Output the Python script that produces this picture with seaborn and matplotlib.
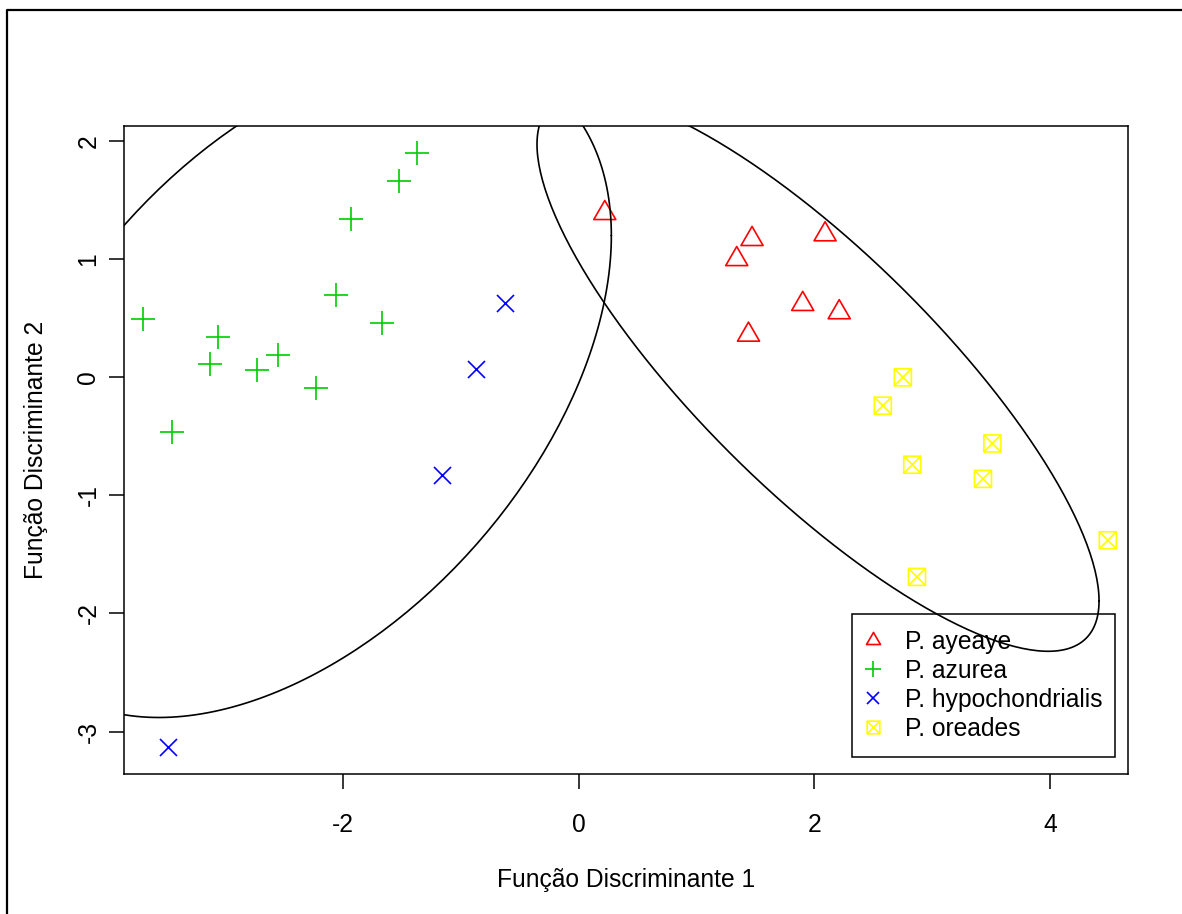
import numpy as np
import pandas as pd
import matplotlib
matplotlib.use('Agg')
import matplotlib.pyplot as plt
from matplotlib.path import Path
from matplotlib.lines import Line2D
from matplotlib.patches import Rectangle
import seaborn as sns

# escores nas funções discriminantes
ayeaye_fd1 = [0.22, 1.47, 1.34, 2.09, 1.90, 2.21, 1.44]
ayeaye_fd2 = [1.39, 1.17, 1.00, 1.21, 0.62, 0.55, 0.36]
azurea_fd1 = [-3.70, -1.37, -1.53, -1.93, -2.06, -1.67, -3.06, -3.13, -2.55, -2.73, -2.23, -3.45]
azurea_fd2 = [0.49, 1.90, 1.66, 1.34, 0.70, 0.46, 0.34, 0.11, 0.19, 0.06, -0.09, -0.46]
hypo_fd1 = [-0.63, -0.87, -1.16, -3.49]
hypo_fd2 = [0.63, 0.07, -0.83, -3.13]
oreades_fd1 = [2.75, 2.58, 3.51, 2.83, 3.43, 4.49, 2.87]
oreades_fd2 = [0.00, -0.24, -0.56, -0.74, -0.86, -1.38, -1.69]

especies = ['P. ayeaye', 'P. azurea', 'P. hypochondrialis', 'P. oreades']
cores = ['#FF0000', '#00CD00', '#0000FF', '#FFFF00']

# elipses: centro e matriz de forma
elipse_centros = [[-2.37, -0.07], [2.03, 0.04]]
elipse_formas = [[[7.00, 3.36], [3.36, 7.90]],
                 [[5.69, -4.61], [-4.61, 5.57]]]

df = pd.concat([
    pd.DataFrame({'fd1': ayeaye_fd1, 'fd2': ayeaye_fd2, 'especie': especies[0]}),
    pd.DataFrame({'fd1': azurea_fd1, 'fd2': azurea_fd2, 'especie': especies[1]}),
    pd.DataFrame({'fd1': hypo_fd1, 'fd2': hypo_fd2, 'especie': especies[2]}),
    pd.DataFrame({'fd1': oreades_fd1, 'fd2': oreades_fd2, 'especie': especies[3]}),
], ignore_index=True)

# marcadores estilo R (pch 2 e pch 7)
triangulo = Path([(0, 1.555), (1.347, -0.778), (-1.347, -0.778), (0, 1.555)],
                 [Path.MOVETO, Path.LINETO, Path.LINETO, Path.CLOSEPOLY])
quad_x = Path([(-1, -1), (1, -1), (1, 1), (-1, 1), (-1, -1),
               (-1, -1), (1, 1), (-1, 1), (1, -1)],
              [Path.MOVETO, Path.LINETO, Path.LINETO, Path.LINETO, Path.CLOSEPOLY,
               Path.MOVETO, Path.LINETO, Path.MOVETO, Path.LINETO])
marcadores = [triangulo, '+', 'x', quad_x]
tamanhos = [335, 275, 150, 150]
tam_legenda = [11.6, 12.2, 9.1, 9.1]

sns.set_theme(style='white')
plt.rcParams['font.family'] = ['Liberation Sans', 'DejaVu Sans']
plt.rcParams['font.size'] = 17.7
plt.rcParams['text.color'] = 'black'
plt.rcParams['axes.unicode_minus'] = False

fig = plt.figure(figsize=(11.82, 9.14), dpi=100)
ax = fig.add_axes([0.1053, 0.1532, 0.8486, 0.7084])

for esp, cor, mk, s in zip(especies, cores, marcadores, tamanhos):
    sub = df[df['especie'] == esp]
    if isinstance(mk, str):
        sns.scatterplot(data=sub, x='fd1', y='fd2', marker=mk, s=s, color=cor,
                        linewidth=1.2, ax=ax, legend=False, zorder=3)
    else:
        sns.scatterplot(data=sub, x='fd1', y='fd2', marker=mk, s=s, color=cor,
                        facecolor='none', edgecolor=cor, linewidth=1.2,
                        ax=ax, legend=False, zorder=3)

t = np.linspace(0, 2 * np.pi, 300)
circ = np.vstack([np.cos(t), np.sin(t)])
for centro, forma in zip(elipse_centros, elipse_formas):
    L = np.linalg.cholesky(np.array(forma))
    pts = L @ circ + np.array(centro)[:, None]
    ax.plot(pts[0], pts[1], color='black', lw=1.2, zorder=6)

ax.set_xlim(-3.857, 4.657)
ax.set_ylim(-3.359, 2.124)
ax.set_xticks([-2, 0, 2, 4])
ax.set_yticks([-3, -2, -1, 0, 1, 2])
ax.tick_params(direction='out', length=10.8, width=1.1, color='black',
               labelsize=17.7, labelcolor='black', bottom=True, left=True)
ax.tick_params(axis='x', pad=17)
ax.tick_params(axis='y', pad=6.5)
for lab in ax.get_yticklabels():
    lab.set_rotation(90)
    lab.set_va('center')
for sp in ax.spines.values():
    sp.set_color('black')
    sp.set_linewidth(1.1)

ax.set_xlabel('Função Discriminante 1', fontsize=17.7, color='black')
ax.set_ylabel('Função Discriminante 2', fontsize=17.7, color='black')
ax.xaxis.label.set_va('center')
ax.yaxis.label.set_va('center')
ax.xaxis.set_label_coords(0.5, -0.1637)
ax.yaxis.set_label_coords(-0.0882, 0.5)

# legenda sem fundo, com moldura desenhada à parte
handles = [Line2D([], [], linestyle='none', marker=mk, markersize=ms,
                  markerfacecolor='none', markeredgecolor=cor, color=cor,
                  markeredgewidth=1.2)
           for mk, ms, cor in zip(marcadores, tam_legenda, cores)]
ax.legend(handles, especies, loc='center', bbox_to_anchor=(0.8544, 0.1367),
          frameon=False, fontsize=17.7, handlelength=1.0, handletextpad=0.8,
          labelspacing=0.2, borderpad=0, borderaxespad=0, labelcolor='black')
ax.add_patch(Rectangle((0.7253, 0.0263), 0.2622, 0.2208, transform=ax.transAxes,
                       fill=False, edgecolor='black', linewidth=1.1, zorder=5))

# moldura da figura (esquerda e topo)
fig.add_artist(Line2D([0.0059, 0.0059, 1.0], [0.0, 0.989, 0.989],
                      color='black', lw=1.6, transform=fig.transFigure))

fig.savefig('out.png', dpi=100)
